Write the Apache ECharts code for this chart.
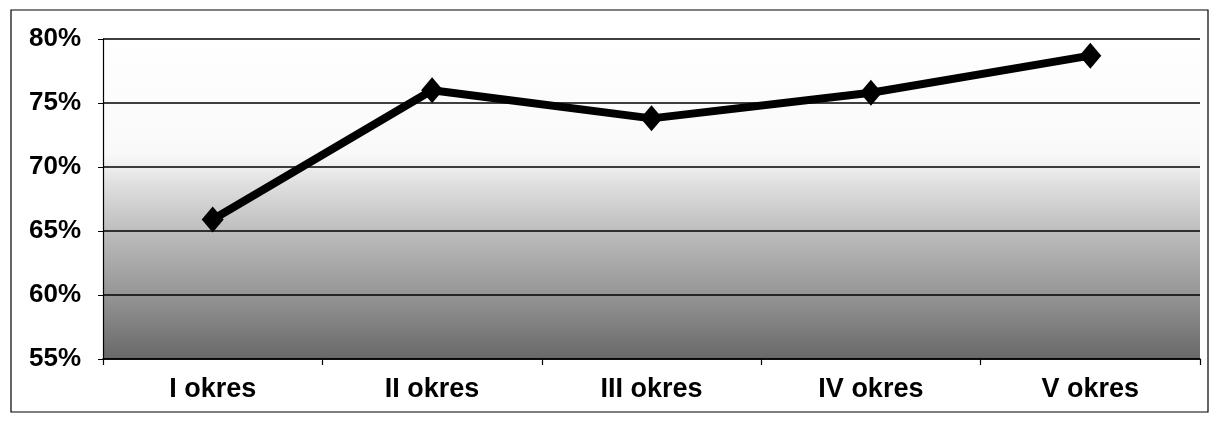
<!DOCTYPE html>
<html>
<head>
<meta charset="utf-8">
<script src="https://cdn.jsdelivr.net/npm/echarts@6/dist/echarts.min.js"></script>
<style>
  html, body { margin: 0; padding: 0; background: #fff; }
  #main { width: 1219px; height: 424px; }
</style>
</head>
<body>
<div id="main"></div>
<script>
  const categories = ['I okres', 'II okres', 'III okres', 'IV okres', 'V okres'];
  const values = [65.9, 76.0, 73.8, 75.8, 78.7];
  const yTicks = [55, 60, 65, 70, 75, 80];

  let myechart = echarts.init(document.getElementById('main'));
  let option = {
    animation: false,
    graphic: [{
      type: 'rect',
      shape: { x: 11, y: 10, width: 1197, height: 402 },
      style: { fill: 'none', stroke: '#000', lineWidth: 1.2 },
      z: -1
    }],
    grid: {
      left: 103,
      right: 19,
      top: 39,
      bottom: 65,
      show: true,
      borderWidth: 0,
      backgroundColor: {
        type: 'linear', x: 0, y: 0, x2: 0, y2: 1,
        colorStops: [
          { offset: 0, color: '#ffffff' },
          { offset: 0.36, color: '#f9f9f9' },
          { offset: 0.45, color: '#e0e0e0' },
          { offset: 0.6, color: '#bdbdbd' },
          { offset: 0.8, color: '#959595' },
          { offset: 1, color: '#686868' }
        ]
      }
    },
    xAxis: {
      type: 'category',
      data: categories,
      boundaryGap: true,
      axisLine: { lineStyle: { color: '#000', width: 1.5 } },
      axisTick: { show: true, length: 6, lineStyle: { color: '#000', width: 1.2 } },
      axisLabel: {
        color: '#000',
        fontFamily: 'Liberation Sans, Arial, sans-serif',
        fontWeight: 'bold',
        fontSize: 27,
        margin: 17
      }
    },
    yAxis: {
      type: 'value',
      min: yTicks[0],
      max: yTicks[yTicks.length - 1],
      interval: 5,
      axisLine: { show: true, lineStyle: { color: '#000', width: 1.2 } },
      axisTick: { show: true, length: 5, lineStyle: { color: '#000' } },
      splitLine: { show: true, lineStyle: { color: '#000', width: 1.5 } },
      axisLabel: {
        color: '#000',
        fontFamily: 'Liberation Sans, Arial, sans-serif',
        fontWeight: 'bold',
        fontSize: 26,
        margin: 22,
        formatter: '{value}%'
      }
    },
    series: [{
      type: 'line',
      data: values,
      symbol: 'diamond',
      symbolSize: [22, 26],
      itemStyle: { color: '#000' },
      lineStyle: { color: '#000', width: 8 }
    }]
  };
  myechart.setOption(option);
</script>
</body>
</html>
